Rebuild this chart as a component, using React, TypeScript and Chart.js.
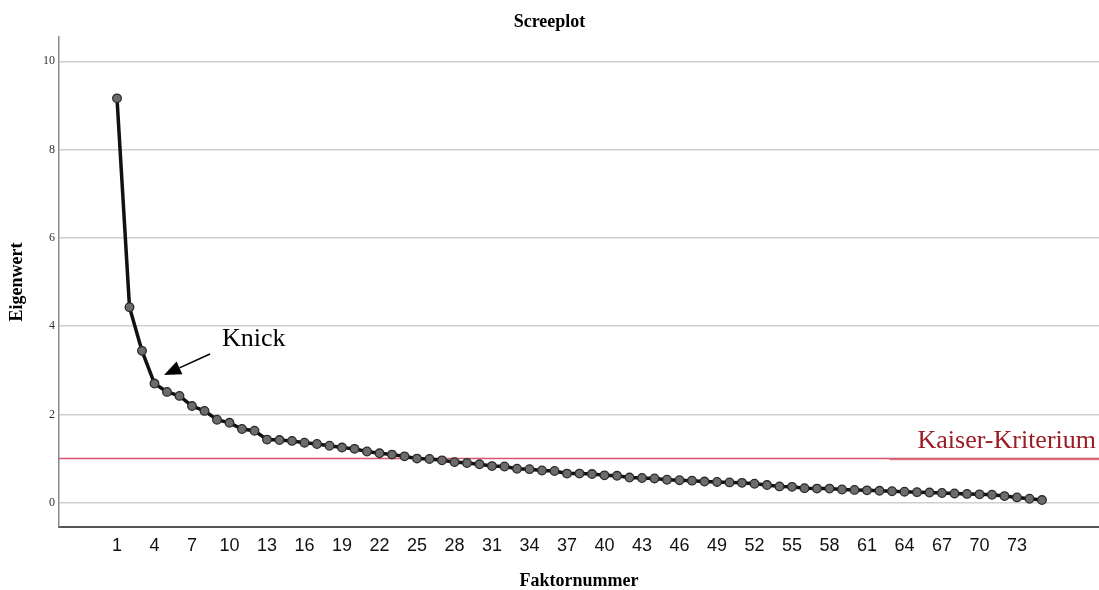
import React, { useEffect, useRef } from "react";
import { Chart, registerables } from "chart.js";

Chart.register(...registerables);

const factorNumbers = [
  1, 2, 3, 4, 5, 6, 7, 8, 9, 10, 11, 12, 13, 14, 15, 16, 17, 18, 19, 20, 21, 22, 23, 24, 25,
  26, 27, 28, 29, 30, 31, 32, 33, 34, 35, 36, 37, 38, 39, 40, 41, 42, 43, 44, 45, 46, 47, 48, 49, 50,
  51, 52, 53, 54, 55, 56, 57, 58, 59, 60, 61, 62, 63, 64, 65, 66, 67, 68, 69, 70, 71, 72, 73, 74, 75,
];

const eigenvalues = [
  9.16, 4.43, 3.44, 2.7, 2.51, 2.42, 2.19, 2.08, 1.88, 1.81, 1.67, 1.63, 1.43, 1.42, 1.4, 1.36, 1.33, 1.29, 1.25, 1.22, 1.16, 1.12, 1.09, 1.05, 1.0,
  0.99, 0.96, 0.92, 0.9, 0.87, 0.83, 0.82, 0.77, 0.76, 0.73, 0.72, 0.66, 0.66, 0.65, 0.62, 0.61, 0.57, 0.56, 0.55, 0.52, 0.51, 0.5, 0.48, 0.47, 0.46,
  0.45, 0.43, 0.4, 0.37, 0.36, 0.33, 0.32, 0.32, 0.3, 0.29, 0.28, 0.27, 0.26, 0.25, 0.24, 0.23, 0.22, 0.21, 0.2, 0.19, 0.18, 0.15, 0.12, 0.09, 0.06,
];

const xTickLabels = [1, 4, 7, 10, 13, 16, 19, 22, 25, 28, 31, 34, 37, 40, 43, 46, 49, 52, 55, 58, 61, 64, 67, 70, 73];
const yTickLabels = [0, 2, 4, 6, 8, 10];
const kaiserValue = 1;

const X_MIN = -3.64;
const X_MAX = 79.56;
const Y_MIN = -0.55;
const Y_MAX = 10.55;

const annotationPlugin = {
  id: "screeAnnotations",
  afterDraw(chart: any) {
    const { ctx } = chart;
    ctx.save();
    // Knick label
    ctx.font = "26px 'Liberation Serif', 'Times New Roman', serif";
    ctx.fillStyle = "#000";
    ctx.textAlign = "left";
    ctx.textBaseline = "alphabetic";
    ctx.fillText("Knick", 222, 346);
    // Arrow
    const tx = 210, ty = 354, hx = 164, hy = 375;
    const dx = hx - tx, dy = hy - ty;
    const len = Math.sqrt(dx * dx + dy * dy);
    const ux = dx / len, uy = dy / len;
    const headLen = 17, headHalf = 7;
    const bx = hx - ux * headLen, by = hy - uy * headLen;
    ctx.strokeStyle = "#000";
    ctx.lineWidth = 1.5;
    ctx.beginPath();
    ctx.moveTo(tx, ty);
    ctx.lineTo(bx, by);
    ctx.stroke();
    ctx.beginPath();
    ctx.moveTo(hx, hy);
    ctx.lineTo(bx - uy * headHalf, by + ux * headHalf);
    ctx.lineTo(bx + uy * headHalf, by - ux * headHalf);
    ctx.closePath();
    ctx.fillStyle = "#000";
    ctx.fill();
    // Kaiser label
    ctx.font = "26px 'Liberation Serif', 'Times New Roman', serif";
    ctx.fillStyle = "#9c1c24";
    ctx.textAlign = "right";
    ctx.fillText("Kaiser-Kriterium", 1096, 448);
    ctx.restore();
  },
};

export default function App() {
  const canvasRef = useRef<HTMLCanvasElement | null>(null);

  useEffect(() => {
    if (!canvasRef.current) return;
    const mainData = factorNumbers.map((f, i) => ({ x: f, y: eigenvalues[i] }));
    const kaiserData = [
      { x: X_MIN, y: kaiserValue },
      { x: X_MAX, y: kaiserValue },
    ];
    const kaiserOverlay = [
      { x: 62.8, y: kaiserValue - 0.015 },
      { x: X_MAX, y: kaiserValue - 0.015 },
    ];
    const chart = new Chart(canvasRef.current, {
      type: "line",
      data: {
        datasets: [
          {
            label: "Eigenwert",
            data: mainData,
            borderColor: "#111111",
            borderWidth: 3.5,
            pointRadius: 4.3,
            pointBackgroundColor: "#6c6c6c",
            pointBorderColor: "#2a2a2a",
            pointBorderWidth: 1.3,
            tension: 0,
          },
          {
            label: "Kaiser-Kriterium",
            data: kaiserData,
            borderColor: "rgb(214, 86, 108)",
            borderWidth: 1.5,
            pointRadius: 0,
            tension: 0,
          },
          {
            label: "Kaiser-Kriterium (Markierung)",
            data: kaiserOverlay,
            borderColor: "rgb(228, 128, 148)",
            borderWidth: 2.2,
            pointRadius: 0,
            tension: 0,
          },
        ],
      },
      options: {
        animation: false,
        responsive: false,
        maintainAspectRatio: false,
        layout: { autoPadding: false, padding: { left: 0, right: 0, top: 0, bottom: 0 } },
        plugins: {
          legend: { display: false },
          tooltip: { enabled: false },
          title: {
            display: true,
            text: "Screeplot",
            color: "#000",
            font: { family: "'Liberation Serif', 'Times New Roman', serif", size: 18, weight: "bold", lineHeight: 1 },
            padding: { top: 13, bottom: 6 },
          },
        },
        scales: {
          x: {
            type: "linear",
            min: X_MIN,
            max: X_MAX,
            afterBuildTicks: (scale: any) => {
              scale.ticks = xTickLabels.map((v) => ({ value: v }));
            },
            afterFit: (scale: any) => {
              scale.height = 63;
              scale.paddingLeft = 0;
              scale.paddingRight = 0;
            },
            grid: { display: false, drawTicks: false },
            border: { display: true, color: "#555555", width: 2 },
            ticks: {
              autoSkip: false,
              maxRotation: 0,
              padding: 8,
              color: "#111",
              font: { family: "'Liberation Sans', Arial, sans-serif", size: 18 },
              callback: (v: any) => String(v),
            },
            title: {
              display: true,
              text: "Faktornummer",
              color: "#000",
              font: { family: "'Liberation Serif', 'Times New Roman', serif", size: 18, weight: "bold", lineHeight: 1 },
              padding: { top: 0, bottom: 0 },
            },
          },
          y: {
            type: "linear",
            min: Y_MIN,
            max: Y_MAX,
            afterBuildTicks: (scale: any) => {
              scale.ticks = yTickLabels.map((v) => ({ value: v }));
            },
            afterFit: (scale: any) => {
              scale.width = 59;
              scale.paddingTop = 0;
              scale.paddingBottom = 0;
            },
            grid: { display: true, drawTicks: false, color: "#cfcfcf", lineWidth: 1.5 },
            border: { display: true, color: "#8a8a8a", width: 1.5 },
            ticks: {
              padding: 4,
              color: "#333",
              font: { family: "'Liberation Serif', 'Times New Roman', serif", size: 12 },
              callback: (v: any) => String(v),
            },
            title: {
              display: true,
              text: "Eigenwert",
              color: "#000",
              font: { family: "'Liberation Serif', 'Times New Roman', serif", size: 18, weight: "bold", lineHeight: 1 },
              padding: { top: 8, bottom: 0 },
            },
          },
        },
      },
      plugins: [annotationPlugin],
    } as any);
    return () => chart.destroy();
  }, []);

  return (
    <div style={{ position: "fixed", left: 0, top: 0, width: 1099, height: 590, background: "#fff" }}>
      <canvas ref={canvasRef} width={1099} height={590} style={{ width: 1099, height: 590, display: "block" }} />
    </div>
  );
}
